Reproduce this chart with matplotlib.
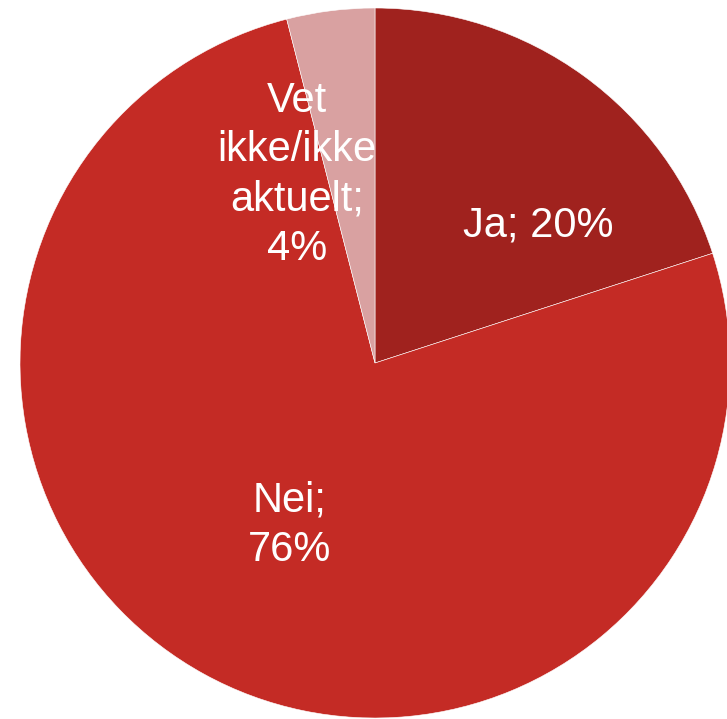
import matplotlib.pyplot as plt

# Data
labels = ['Ja', 'Nei', 'Vet\nikke/ikke\naktuelt']
values = [20, 76, 4]
colors = ['#A0221E', '#C42B25', '#D9A1A1']

W, H = 727, 719
cx, cy, r = 375, 363, 355  # pie centre and radius in pixels

fig = plt.figure(figsize=(W / 100, H / 100), dpi=100)
ax = fig.add_axes([0, 0, 1, 1])

ax.pie(values, colors=colors, startangle=90, counterclock=False,
       wedgeprops=dict(edgecolor='white', linewidth=0.4))

ax.set_xlim(-cx / r, (W - cx) / r)
ax.set_ylim(-(H - cy) / r, cy / r)
ax.set_aspect('equal')
ax.axis('off')

# label positions (pixel coordinates in the reference)
label_pos = [(538, 225), (290, 525), (297, 175)]
for lab, val, (px, py) in zip(labels, values, label_pos):
    sep = '; ' if lab == 'Ja' else ';\n'
    ax.text((px - cx) / r, (cy - py) / r, f"{lab}{sep}{val}%",
            ha='center', va='center', color='white', fontsize=30,
            family='Liberation Sans', linespacing=1.3)

fig.savefig('out.png', dpi=100)
